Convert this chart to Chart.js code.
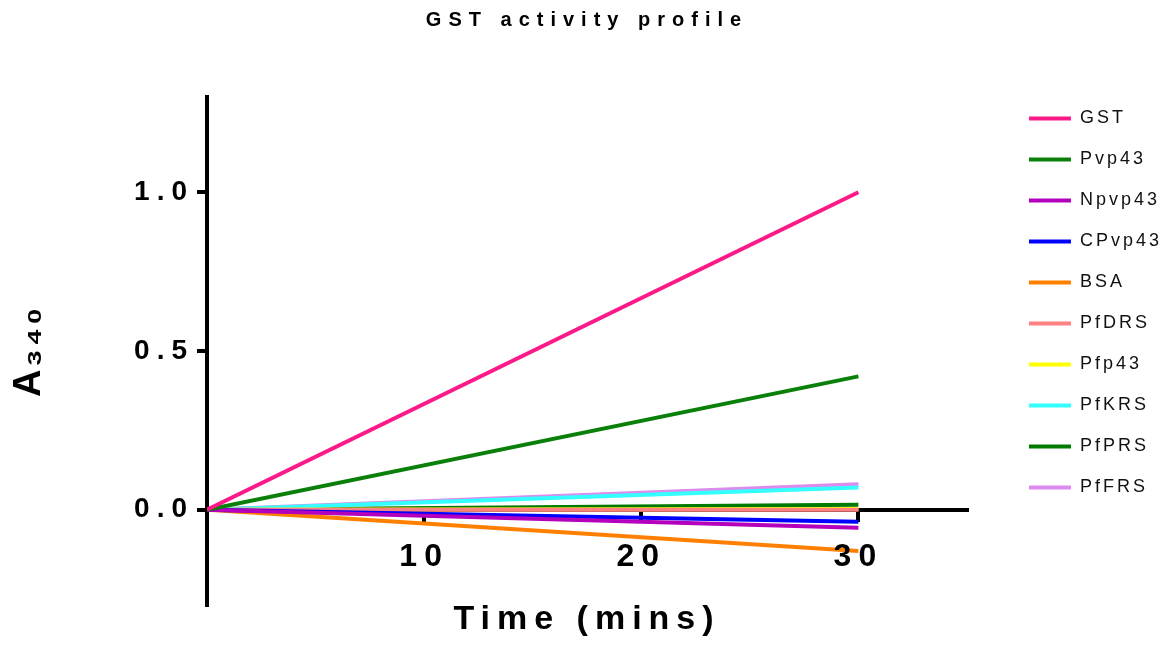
<!DOCTYPE html>
<html>
<head>
<meta charset="utf-8">
<title>GST activity profile</title>
<script src="https://cdn.jsdelivr.net/npm/chart.js@4.4.1/dist/chart.umd.min.js"></script>
<style>
  html, body { margin: 0; padding: 0; background: #fff; }
  #wrap { width: 1172px; height: 646px; }
</style>
</head>
<body>
<div id="wrap"><canvas id="canvas"></canvas></div>
<script>
// time points (mins) and A340 readings for each sample
var times = [0, 30];
var seriesNames = ['GST', 'Pvp43', 'Npvp43', 'CPvp43', 'BSA', 'PfDRS', 'Pfp43', 'PfKRS', 'PfPRS', 'PfFRS'];
var gst = [0, 1.0];
var pvp43 = [0, 0.42];
var npvp43 = [0, -0.057];
var cpvp43 = [0, -0.038];
var bsa = [0, -0.13];
var pfdrs = [0, 0.0];
var pfp43 = [0, 0.002];
var pfkrs = [0, 0.07];
var pfprs = [0, 0.016];
var pffrs = [0, 0.08];
var seriesColors = ['#fc1a88', '#0a800a', '#b400bc', '#0000ff', '#ff8000', '#ff8080', '#ffff00', '#33ffff', '#007a00', '#dc8aee'];

// tick labels
var xTicks = [10, 20, 30];
var yTicks = [0.0, 0.5, 1.0];

var allSeries = [gst, pvp43, npvp43, cpvp43, bsa, pfdrs, pfp43, pfkrs, pfprs, pffrs];

var datasets = allSeries.map(function (vals, i) {
    return {
        label: seriesNames[i],
        data: vals.map(function (v, j) { return { x: times[j], y: v }; }),
        borderColor: seriesColors[i],
        backgroundColor: seriesColors[i],
        borderWidth: 4,
        pointRadius: 0,
        fill: false
    };
});

var FONT = "'Liberation Sans', Arial, sans-serif";

// Prism style spaced-out lettering.
// layers drawn before the lines (legend, y title) get the narrow spacing,
// layers with z > 0 (tick labels, chart title, x title) get the wide one
var letterSpacing = {
    id: 'letterSpacing',
    beforeLayout: function (chart) { chart.ctx.letterSpacing = '3px'; },
    beforeDraw: function (chart) { chart.ctx.letterSpacing = '3px'; },
    afterDatasetsDraw: function (chart) { chart.ctx.letterSpacing = '7px'; }
};

Chart.defaults.color = '#000';
Chart.defaults.font.family = FONT;

var ctx = document.getElementById('canvas').getContext('2d');
var chart = new Chart(ctx, {
    type: 'line',
    data: { datasets: datasets },
    plugins: [letterSpacing],
    options: {
        responsive: true,
        maintainAspectRatio: false,
        animation: false,
        layout: { padding: 0 },
        plugins: {
            tooltip: { enabled: false },
            title: { display: false },
            legend: {
                position: 'right',
                align: 'start',
                fullSize: true,
                title: { display: true, text: '', padding: { top: 72, bottom: 0 } },
                labels: {
                    boxWidth: 42,
                    boxHeight: 4,
                    padding: 23,
                    color: '#111',
                    font: { family: FONT, size: 18 },
                    generateLabels: function (c) {
                        var items = Chart.defaults.plugins.legend.labels.generateLabels(c);
                        items.forEach(function (it) { it.lineWidth = 0; });
                        return items;
                    }
                }
            }
        },
        scales: {
            x: {
                type: 'linear',
                position: { y: 0 },
                min: 0,
                max: 35,
                afterBuildTicks: function (scale) {
                    scale.ticks = xTicks.map(function (v) { return { value: v }; });
                },
                grid: { drawOnChartArea: false, drawTicks: true, tickLength: 10, lineWidth: 4, color: '#000' },
                border: { display: true, width: 4, color: '#000' },
                ticks: {
                    z: 1,
                    padding: 18,
                    maxRotation: 0,
                    color: '#000',
                    font: { family: FONT, size: 32, weight: 'bold' },
                    callback: function (v) { return String(v); }
                }
            },
            // top axis only carries the chart title
            x3: {
                type: 'linear',
                position: 'top',
                display: true,
                grid: { display: false, drawTicks: false, z: 1 },
                border: { display: false },
                ticks: { display: false },
                title: {
                    display: true,
                    text: 'GST activity profile',
                    color: '#000',
                    font: { family: FONT, size: 20, weight: 'bold' },
                    padding: { top: 8, bottom: 65 }
                }
            },
            // bottom axis only carries the x title
            x2: {
                type: 'linear',
                position: 'bottom',
                display: true,
                grid: { display: false, drawTicks: false, z: 1 },
                border: { display: false },
                ticks: { display: false },
                title: {
                    display: true,
                    text: 'Time (mins)',
                    color: '#000',
                    font: { family: FONT, size: 34, weight: 'bold' },
                    padding: { top: -5.8, bottom: 6 }
                }
            },
            y: {
                type: 'linear',
                position: 'left',
                min: -0.3,
                max: 1.3,
                afterBuildTicks: function (scale) {
                    scale.ticks = yTicks.map(function (v) { return { value: v }; });
                },
                afterFit: function (scale) { scale.width = 207; },
                grid: { drawOnChartArea: false, drawTicks: true, tickLength: 10, lineWidth: 4, color: '#000' },
                border: { display: true, width: 4, color: '#000' },
                ticks: {
                    z: 1,
                    padding: 3,
                    color: '#000',
                    font: { family: FONT, size: 28, weight: 'bold' },
                    callback: function (v) { return Number(v).toFixed(1); }
                },
                title: {
                    display: true,
                    text: 'A\u2083\u2084\u2080',
                    color: '#000',
                    font: { family: FONT, size: 38, weight: 'bold' },
                    padding: { top: 7, bottom: 0 }
                }
            },
            // empty right axis, keeps the gap between plot and legend
            y2: {
                type: 'linear',
                position: 'right',
                display: true,
                grid: { display: false, drawTicks: false },
                border: { display: false },
                ticks: { display: false },
                afterFit: function (scale) { scale.width = 39; }
            }
        }
    }
});
</script>
</body>
</html>
